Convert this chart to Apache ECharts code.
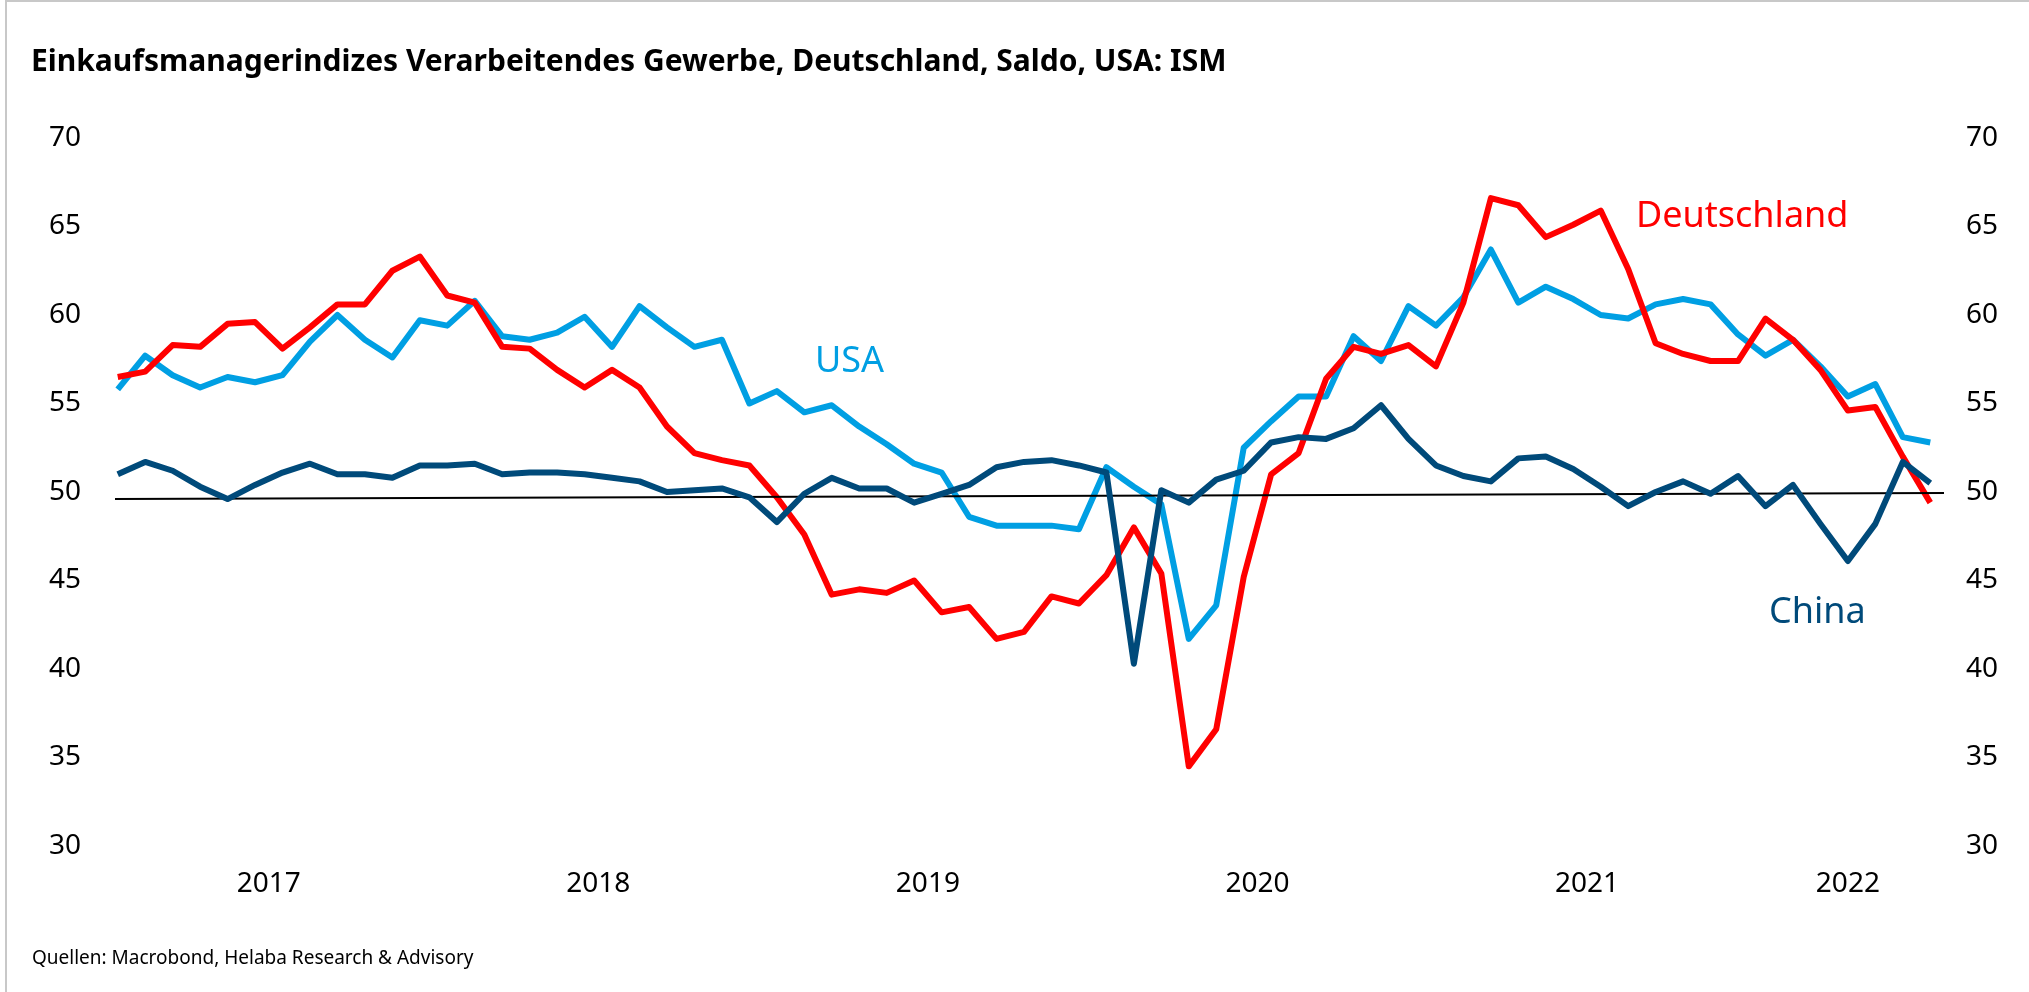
<!DOCTYPE html>
<html>
<head>
<meta charset="utf-8">
<script src="https://cdn.jsdelivr.net/npm/echarts@6/dist/echarts.min.js"></script>
<style>
  html, body { margin: 0; padding: 0; background: #fff; }
  #chart { width: 2029px; height: 992px; }
  #frame { position: absolute; left: 5px; top: 0; width: 2024px; height: 992px;
           border-left: 2px solid #c8c8c8; border-top: 2px solid #c8c8c8; box-sizing: border-box;
           pointer-events: none; }
</style>
</head>
<body>
<div id="chart"></div>
<div id="frame"></div>
<script>
// monthly, Jan 2017 .. Jul 2022
const months = [];
for (let y = 2017; y <= 2022; y++) {
  for (let m = 1; m <= 12; m++) {
    if (y === 2022 && m > 7) break;
    months.push(y + '-' + String(m).padStart(2, '0'));
  }
}

const years = ['2017', '2018', '2019', '2020', '2021', '2022'];

const deutschland = [
  56.5, 56.8, 58.3, 58.2, 59.5, 59.6, 58.1, 59.3, 60.6, 60.6, 62.5, 63.3,
  61.1, 60.7, 58.2, 58.1, 56.9, 55.9, 56.9, 55.9, 53.7, 52.2, 51.8, 51.5,
  49.7, 47.6, 44.2, 44.5, 44.3, 45.0, 43.2, 43.5, 41.7, 42.1, 44.1, 43.7,
  45.3, 48.0, 45.4, 34.5, 36.6, 45.2, 51.0, 52.2, 56.4, 58.2, 57.8, 58.3,
  57.1, 60.7, 66.6, 66.2, 64.4, 65.1, 65.9, 62.6, 58.4, 57.8, 57.4, 57.4,
  59.8, 58.6, 56.9, 54.6, 54.8, 52.0, 49.4
];

const usa = [
  55.8, 57.7, 56.6, 55.9, 56.5, 56.2, 56.6, 58.5, 60.0, 58.6, 57.6, 59.7,
  59.4, 60.8, 58.8, 58.6, 59.0, 59.9, 58.2, 60.5, 59.3, 58.2, 58.6, 55.0,
  55.7, 54.5, 54.9, 53.7, 52.7, 51.6, 51.1, 48.6, 48.1, 48.1, 48.1, 47.9,
  51.4, 50.3, 49.3, 41.7, 43.6, 52.5, 54.0, 55.4, 55.4, 58.8, 57.4, 60.5,
  59.4, 61.0, 63.7, 60.7, 61.6, 60.9, 60.0, 59.8, 60.6, 60.9, 60.6, 58.9,
  57.7, 58.6, 57.1, 55.4, 56.1, 53.1, 52.8
];

const china = [
  51.0, 51.7, 51.2, 50.3, 49.6, 50.4, 51.1, 51.6, 51.0, 51.0, 50.8, 51.5,
  51.5, 51.6, 51.0, 51.1, 51.1, 51.0, 50.8, 50.6, 50.0, 50.1, 50.2, 49.7,
  48.3, 49.9, 50.8, 50.2, 50.2, 49.4, 49.9, 50.4, 51.4, 51.7, 51.8, 51.5,
  51.1, 40.3, 50.1, 49.4, 50.7, 51.2, 52.8, 53.1, 53.0, 53.6, 54.9, 53.0,
  51.5, 50.9, 50.6, 51.9, 52.0, 51.3, 50.3, 49.2, 50.0, 50.6, 49.9, 50.9,
  49.2, 50.4, 48.2, 46.1, 48.2, 51.7, 50.5
];

// the 50 threshold line, drawn slightly tilted as in the original
const refLine = [49.6, 49.94];

const RED = '#ff0000';
const BLUE = '#009fe3';
const NAVY = '#004a7a';
const FONT = '"Noto Sans", "Open Sans", sans-serif';

const xMin = -0.5;
const xMax = months.length - 0.5;

// year labels sit in the middle of the visible part of each year
const yearPos = years.map((y, k) => {
  const a = k * 12 - 0.5;
  const b = Math.min(k * 12 + 11.5, xMax);
  return (a + b) / 2;
});

const pts = arr => arr.map((v, i) => [i, v]);

const valueAxis = (pos, margin) => ({
  type: 'value',
  position: pos,
  min: 30,
  max: 70,
  interval: 5,
  axisLine: {show: false},
  axisTick: {show: false},
  splitLine: {show: false},
  axisLabel: {color: '#000', fontSize: 28, fontFamily: FONT, margin: margin}
});

const lineSeries = (name, arr, color, z) => ({
  name: name,
  type: 'line',
  data: pts(arr),
  symbol: 'none',
  lineStyle: {color: color, width: 6, join: 'round'},
  z: z
});

const chart = echarts.init(document.getElementById('chart'), null, {renderer: 'canvas'});

const chinaSeries = lineSeries('China', china, NAVY, 5);
chinaSeries.markLine = {
  silent: true,
  symbol: 'none',
  label: {show: false},
  lineStyle: {color: '#000', width: 2, type: 'solid'},
  data: [[{coord: [-0.1, refLine[0]]}, {coord: [xMax, refLine[1]]}]]
};

chart.setOption({
  animation: false,
  backgroundColor: '#fff',
  grid: {left: 104, right: 85, top: 138, bottom: 146, containLabel: false},
  xAxis: {
    type: 'value',
    min: xMin,
    max: xMax,
    axisLine: {show: false},
    axisTick: {show: false},
    splitLine: {show: false},
    axisLabel: {
      customValues: yearPos,
      color: '#000',
      fontSize: 28,
      fontFamily: FONT,
      margin: 24,
      formatter: v => years[yearPos.indexOf(v)] || ''
    }
  },
  yAxis: [valueAxis('left', 23), valueAxis('right', 22)],
  series: [
    lineSeries('USA', usa, BLUE, 3),
    lineSeries('Deutschland', deutschland, RED, 4),
    chinaSeries
  ],
  graphic: [
    {
      type: 'text', x: 31, y: 62,
      style: {
        text: 'Einkaufsmanagerindizes Verarbeitendes Gewerbe, Deutschland, Saldo, USA: ISM',
        font: 'bold 30px ' + FONT, fill: '#000', verticalAlign: 'middle'
      }
    },
    {
      type: 'text', x: 32, y: 959,
      style: {
        text: 'Quellen: Macrobond, Helaba Research & Advisory',
        font: '19px ' + FONT, fill: '#000', verticalAlign: 'middle'
      }
    },
    {
      type: 'text', x: 815, y: 362,
      style: {text: 'USA', font: '36px ' + FONT, fill: BLUE, verticalAlign: 'middle'}
    },
    {
      type: 'text', x: 1636, y: 217,
      style: {text: 'Deutschland', font: '36px ' + FONT, fill: RED, verticalAlign: 'middle'}
    },
    {
      type: 'text', x: 1769, y: 613,
      style: {text: 'China', font: '36px ' + FONT, fill: NAVY, verticalAlign: 'middle'}
    }
  ]
});
</script>
</body>
</html>
